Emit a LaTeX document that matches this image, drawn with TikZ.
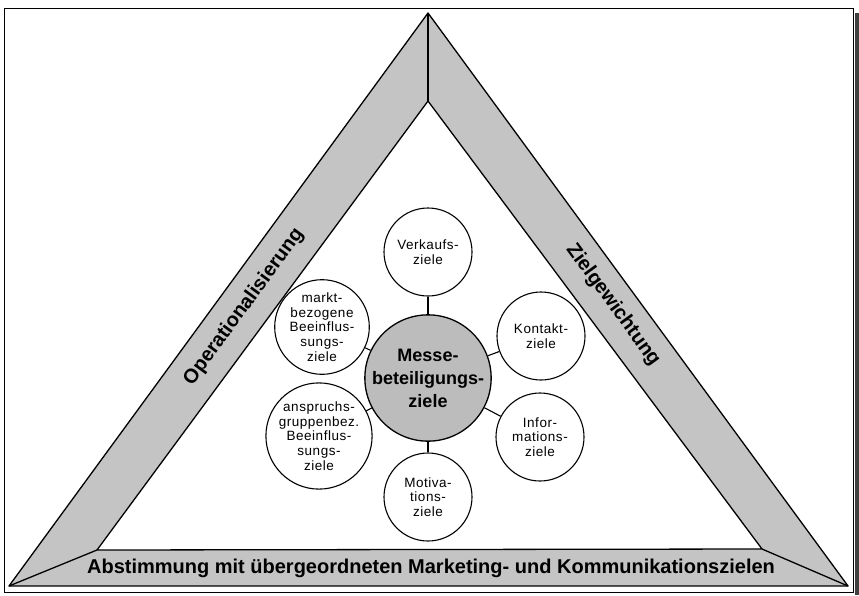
\documentclass[tikz,border=0pt]{standalone}
\usepackage{fontspec}
\setmainfont{Liberation Sans}
\newfontfamily\goalfont[LetterSpace=4]{Liberation Sans}
\definecolor{bandgray}{RGB}{196,196,196}
\definecolor{hubgray}{RGB}{188,188,188}
\begin{document}
\begin{tikzpicture}[x=1pt,y=-1pt,
  edge/.style={line width=1.3pt, line join=round},
  bandlabel/.style={font=\fontsize{20}{22}\selectfont\bfseries, inner sep=0pt},
  goal/.style={circle, draw, line width=1.1pt, fill=white, minimum size=88pt,
    inner sep=0pt, align=center, font=\goalfont\fontsize{13.5}{14.8}\selectfont},
  hub/.style={circle, draw, line width=1.3pt, fill=hubgray, minimum size=114pt,
    inner sep=0pt, align=center, font=\fontsize{18}{23}\selectfont\bfseries},
  link/.style={line width=1.1pt}]
\useasboundingbox (0,0) rectangle (859,595);

% outer frame with a dark edge on the right
\draw[line width=1pt] (4,8) rectangle (853,592);
\fill[black!75] (854.5,13) rectangle (859,595);

% corners of the outer and inner triangle
\coordinate (OA) at (428,13);
\coordinate (OL) at (9,586);
\coordinate (OR) at (848,586);
\coordinate (IA) at (428,101);
\coordinate (IL) at (97,550);
\coordinate (IR) at (762,549);

% three shaded bands
\fill[bandgray] (OA) -- (OL) -- (OR) -- cycle;
\fill[white] (IA) -- (IL) -- (IR) -- cycle;
\draw[edge] (OA) -- (OL) -- (OR) -- cycle;
\draw[edge] (IA) -- (IL) -- (IR) -- cycle;
\draw[edge] (OA) -- (IA);
\draw[edge] (OL) -- (IL);
\draw[edge] (OR) -- (IR);

\node[bandlabel, rotate=53.9] (oper) at (244,307) {Operationalisierung};
\node[bandlabel, rotate=-53.9] (gew) at (613,305) {Zielgewichtung};
\node[bandlabel] (abst) at (431,568) {Abstimmung mit übergeordneten Marketing- und Kommunikationszielen};

% goal circles around the hub
\node[hub] (hub) at (428,378) {Messe-\\beteiligungs-\\ziele};
\node[goal] (verk) at (428,252) {Verkaufs-\\ziele};
\node[goal] (kont) at (541,336) {Kontakt-\\ziele};
\node[goal] (info) at (540,437) {Infor-\\mations-\\ziele};
\node[goal] (moti) at (428,497) {Motiva-\\tions-\\ziele};
\node[goal] (markt) at (322,327) {markt-\\bezogene\\Beeinflus-\\sungs-\\ziele};
\node[goal] (anspr) at (319,436) {anspruchs-\\gruppenbez.\\Beeinflus-\\sungs-\\ziele};

\foreach \g in {verk,kont,info,moti,markt,anspr}
  \draw[link] (hub) -- (\g);
\end{tikzpicture}
\end{document}
